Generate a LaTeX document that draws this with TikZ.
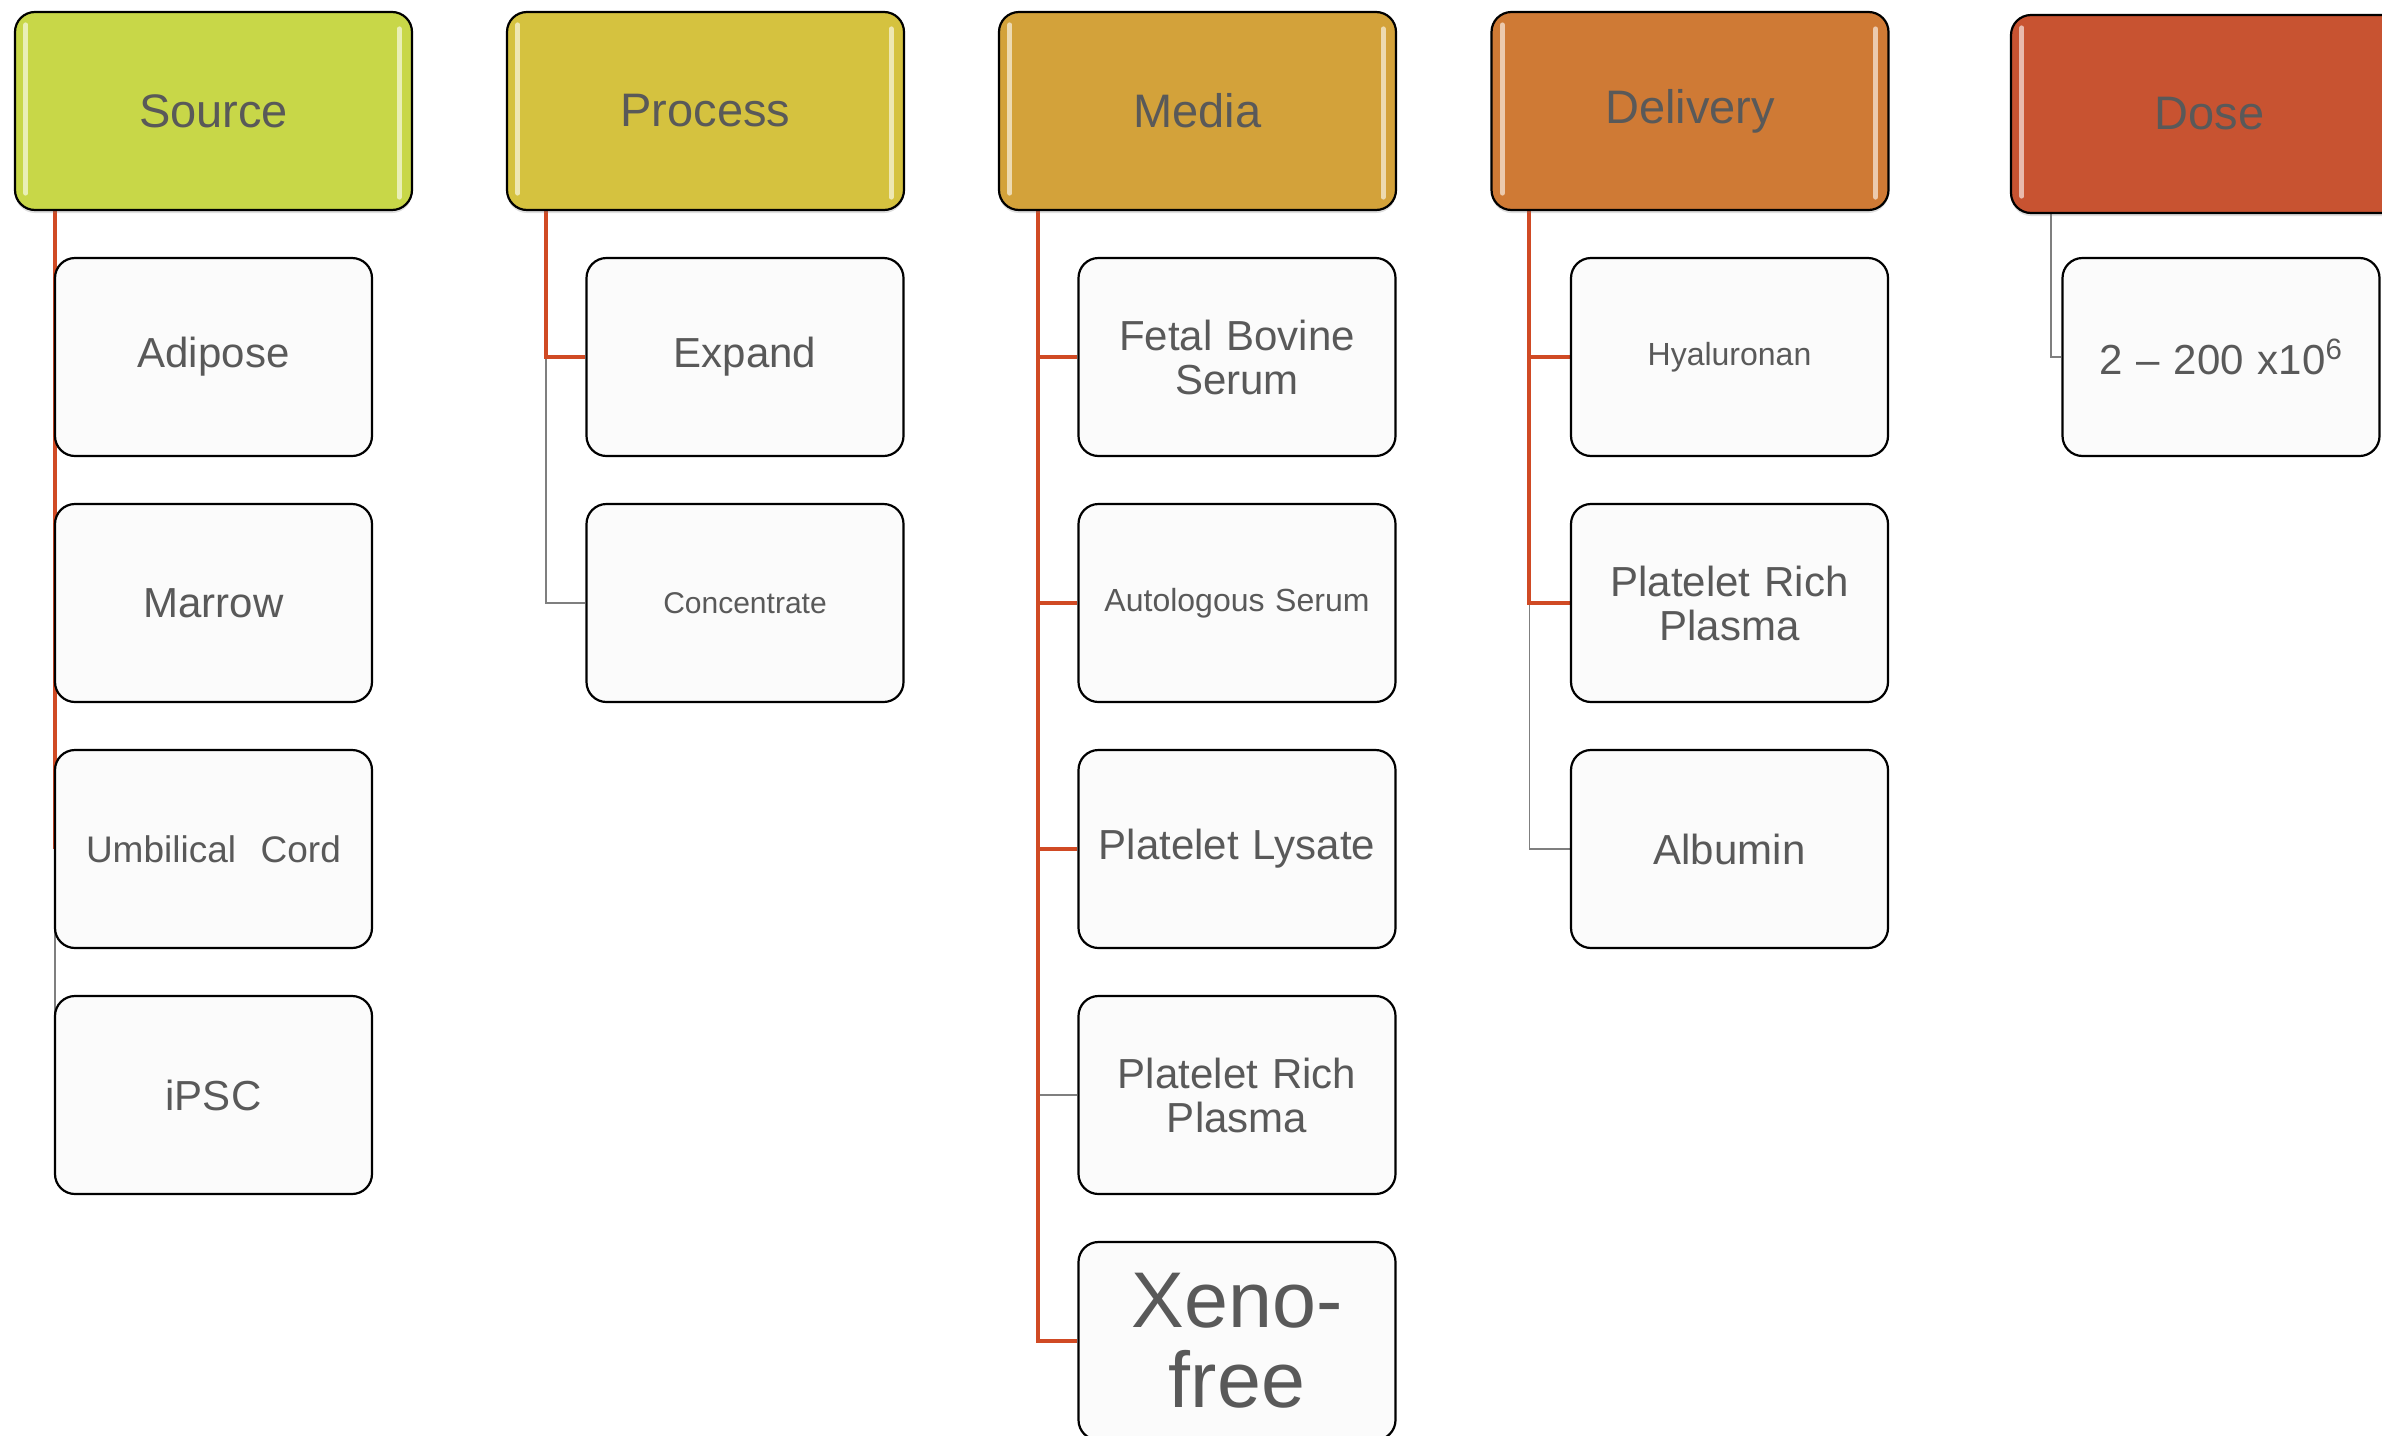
\documentclass[tikz,border=0pt]{standalone}
\usepackage{fontspec}
\setmainfont{Liberation Sans}
\usetikzlibrary{backgrounds,shadows}

\definecolor{srcgreen}{HTML}{C8D748}
\definecolor{procyellow}{HTML}{D5C23F}
\definecolor{mediaochre}{HTML}{D3A23A}
\definecolor{delivorange}{HTML}{CF7A35}
\definecolor{dosered}{HTML}{C85331}
\definecolor{boxfill}{HTML}{FBFBFB}
\definecolor{txtgray}{HTML}{595959}
\definecolor{linkred}{HTML}{D04A24}
\definecolor{linkgray}{HTML}{7F7F7F}

\tikzset{every picture/.style={line width=0.75pt}}
\tikzset{
  header/.style={draw=black, line width=1.1pt, rounded corners=10pt,
    minimum width=198.5pt, minimum height=99pt, inner sep=0pt, text=txtgray,
    font=\fontsize{23.5}{25}\selectfont,
    drop shadow={shadow xshift=0pt, shadow yshift=-1.5pt, opacity=0.25}},
  item/.style={draw=black, fill=boxfill, line width=1.1pt, rounded corners=10pt,
    minimum width=158.5pt, minimum height=99pt, inner sep=0pt, text=txtgray,
    text width=150pt, align=center, font=\fontsize{21}{22}\selectfont},
  glint/.style={draw=#1!40!white, line width=2.5pt, line cap=round},
  redline/.style={draw=linkred, line width=2pt},
  grayline/.style={draw=linkgray, line width=0.7pt},
}

\begin{document}
\begin{tikzpicture}[x=0.5pt,y=0.5pt,yscale=-1,xscale=1]
        \useasboundingbox (0,0) rectangle (2382,1435);

        %Shape: Header boxes
        \node [header, fill=srcgreen] (src) at (213.5,111) {Source};
        \node [header, fill=procyellow] (proc) at (705.5,111) {Process};
        \node [header, fill=mediaochre] (media) at (1197.5,111) {Media};
        \node [header, fill=delivorange] (deliv) at (1690,111) {Delivery};
        \node [header, fill=dosered] (dose) at (2209.5,114) {Dose};

        % glossy edges of the headers
        \foreach \h/\c in {src/srcgreen, proc/procyellow, media/mediaochre, deliv/delivorange, dose/dosered} {
            \draw [glint=\c] ([xshift=6pt,yshift=7pt]\h.north west) -- ([xshift=6pt,yshift=-9pt]\h.south west);
            \draw [glint=\c] ([xshift=-7pt,yshift=9pt]\h.north east) -- ([xshift=-7pt,yshift=-7pt]\h.south east);
        }

        %Shape: Source column
        \node [item] (adipose) at (213.5,357) {Adipose};
        \node [item] (marrow) at (213.5,603) {Marrow};
        \node [item, font=\fontsize{18.5}{20}\selectfont] (cord) at (213.5,849) {Umbilical\ \ Cord};
        \node [item] (ipsc) at (213.5,1095) {iPSC};

        %Shape: Process column
        \node [item] (expand) at (745,357) {Expand};
        \node [item, font=\fontsize{15}{16}\selectfont] (conc) at (745,603) {Concentrate};

        %Shape: Media column
        \node [item] (fbs) at (1237,357) {Fetal Bovine\\Serum};
        \node [item, font=\fontsize{16}{17}\selectfont] (auto) at (1237,603) {Autologous Serum};
        \node [item] (lysate) at (1237,849) {Platelet Lysate};
        \node [item] (prpmedia) at (1237,1095) {Platelet Rich\\Plasma};
        \node [item, font=\fontsize{39.5}{40}\selectfont] (xeno) at (1237,1341) {Xeno-\\free};

        %Shape: Delivery column
        \node [item, font=\fontsize{16}{17}\selectfont] (hyal) at (1729.5,357) {Hyaluronan};
        \node [item] (prpdeliv) at (1729.5,603) {Platelet Rich\\Plasma};
        \node [item] (albumin) at (1729.5,849) {Albumin};

        %Shape: Dose column
        \node [item] (amount) at (2221,357) {2 -- 200 x10\textsuperscript{6}};

        % Connectors
        \begin{scope}[on background layer]
            \draw [grayline] ([xshift=20.5pt]src.south west) |- (ipsc.west);
            \draw [redline] ([xshift=20.5pt]src.south west) |- (adipose.west);
            \draw [redline] ([xshift=20.5pt]src.south west) |- (marrow.west);
            \draw [redline] ([xshift=20.5pt]src.south west) |- (cord.west);

            \draw [grayline] ([xshift=20pt]proc.south west) |- (conc.west);
            \draw [redline] ([xshift=20pt]proc.south west) |- (expand.west);

            \draw [grayline] ([xshift=20pt]media.south west) |- (prpmedia.west);
            \draw [redline] ([xshift=20pt]media.south west) |- (fbs.west);
            \draw [redline] ([xshift=20pt]media.south west) |- (auto.west);
            \draw [redline] ([xshift=20pt]media.south west) |- (lysate.west);
            \draw [redline] ([xshift=20pt]media.south west) |- (xeno.west);

            \draw [grayline] ([xshift=19.5pt]deliv.south west) |- (albumin.west);
            \draw [redline] ([xshift=19.5pt]deliv.south west) |- (hyal.west);
            \draw [redline] ([xshift=19.5pt]deliv.south west) |- (prpdeliv.west);

            \draw [grayline] ([xshift=20.5pt]dose.south west) |- (amount.west);
        \end{scope}
    \end{tikzpicture}
\end{document}
